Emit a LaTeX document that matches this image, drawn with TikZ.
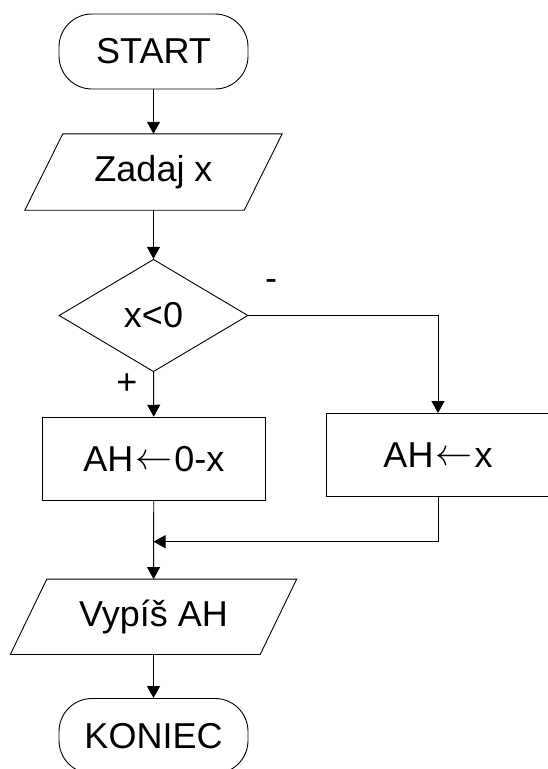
\documentclass[tikz,border=0pt]{standalone}
\usepackage{fontspec}
\setmainfont{Liberation Sans}
\usetikzlibrary{arrows.meta,shapes.geometric,calc}
\newcommand{\larr}{\kern2pt\raisebox{1.5pt}{\resizebox{37pt}{14pt}{$\leftarrow$}}\kern2pt}
\begin{document}
\begin{tikzpicture}[x=1pt,y=-1pt,
  every node/.style={font=\fontsize{36}{40}\selectfont},
  lw/.style={line width=0.9pt},
  term/.style={lw,draw,rounded corners=33pt,minimum width=189pt,minimum height=75pt,inner sep=0pt},
  iobox/.style={minimum height=#1,inner sep=0pt},
  proc/.style={lw,draw,minimum width=222.4pt,minimum height=83pt,inner sep=0pt},
  decis/.style={lw,draw,diamond,minimum width=189pt,minimum height=112.4pt,inner sep=0pt},
  arr/.style={lw,-{Triangle[width=13pt,length=12pt]}},
  lbl/.style={inner sep=0pt}]
\useasboundingbox (0,0) rectangle (547,769);
\node[term] (start) at (153.5,51.5) {START};
\node[iobox=76pt,minimum width=219pt] (zad) at (153.5,172) {Zadaj x};
\draw[lw] ($(zad.north west)+(19,0)$) -- ($(zad.north east)+(19,0)$) -- ($(zad.south east)+(-19,0)$) -- ($(zad.south west)+(-19,0)$) -- cycle;
\node[decis] (dec) at (153.5,315.5) {x<0};
\node[proc] (b1) at (153.8,458.7) {AH\larr0-x};
\node[proc] (b2) at (438,455) {AH\larr x};
\node[iobox=75pt,minimum width=249.5pt] (vyp) at (153.5,616.8) {Vypíš AH};
\draw[lw] ($(vyp.north west)+(18.25,0)$) -- ($(vyp.north east)+(18.25,0)$) -- ($(vyp.south east)+(-18.25,0)$) -- ($(vyp.south west)+(-18.25,0)$) -- cycle;
\node[term] (end) at (153.5,736) {KONIEC};
\node[lbl] (minus) at (271,285.5) {-};
\node[lbl] (plus) at (127,384.5) {+};
\coordinate (m) at (153.5,541.7);
\draw[arr] (start) -- (zad);
\draw[arr] (zad) -- (dec);
\draw[arr] (dec) -- (b1);
\draw[arr] (dec.east) -| (b2.north);
\draw[arr] (b1) -- (vyp);
\draw[arr] (b2.south) |- (m);
\draw[arr] (vyp) -- (end);
\end{tikzpicture}
\end{document}
